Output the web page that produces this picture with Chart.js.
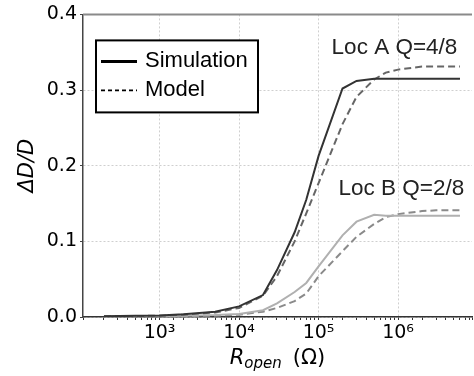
<!DOCTYPE html>
<html>
<head>
<meta charset="utf-8">
<script src="https://cdn.jsdelivr.net/npm/chart.js@4/dist/chart.umd.min.js"></script>
<style>
  html, body { margin: 0; padding: 0; background: #fff; }
  #wrap { width: 474px; height: 376px; }
</style>
</head>
<body>
<div id="wrap"><canvas id="chart" width="474" height="376"></canvas></div>
<script>
// R_open values (ohm) shared by all curves
const rOpen = [200, 500, 1e3, 2e3, 5e3, 1e4, 2e4, 3e4, 5e4, 7e4, 1e5, 2e5, 3e5, 5e5, 7e5, 1e6, 2e6, 3e6, 6e6];

// dD/D readings
const simA   = [0.001, 0.0015, 0.002, 0.0035, 0.007, 0.014, 0.029, 0.062, 0.112, 0.155, 0.213, 0.302, 0.312, 0.315, 0.315, 0.315, 0.315, 0.315, 0.315];
const modelA = [0.0008, 0.0012, 0.0018, 0.003, 0.006, 0.012, 0.028, 0.054, 0.100, 0.137, 0.177, 0.255, 0.291, 0.314, 0.323, 0.327, 0.331, 0.331, 0.331];
const simB   = [0.0005, 0.0007, 0.001, 0.0015, 0.0025, 0.004, 0.009, 0.018, 0.033, 0.045, 0.067, 0.108, 0.126, 0.135, 0.134, 0.134, 0.134, 0.134, 0.134];
const modelB = [0.0003, 0.0005, 0.0007, 0.001, 0.0018, 0.003, 0.007, 0.012, 0.021, 0.031, 0.054, 0.087, 0.106, 0.123, 0.132, 0.136, 0.140, 0.141, 0.141];

const yTicks = [0, 0.1, 0.2, 0.3, 0.4];
const legendLabels = ['Simulation', 'Model'];
const notes = [
  { text: 'Loc A Q=4/8', x: 9e5, y: 0.356 },
  { text: 'Loc B Q=2/8', x: 1.1e6, y: 0.169 },
];

const sup = { '0': '⁰', '1': '¹', '2': '²', '3': '³', '4': '⁴', '5': '⁵', '6': '⁶', '7': '⁷', '8': '⁸', '9': '⁹' };
const isDecade = (v) => Math.abs(Math.log10(v) - Math.round(Math.log10(v))) < 1e-9;

function pts(ys) {
  return rOpen.map((r, i) => ({ x: r, y: ys[i] }));
}

// extra drawing: top spine, legend box, notes, axis titles
const extras = {
  id: 'extras',
  afterDraw(chart) {
    const c = chart.ctx;
    const a = chart.chartArea;
    const x = chart.scales.x, y = chart.scales.y;
    c.save();

    // top spine
    c.strokeStyle = '#8a8a8a';
    c.lineWidth = 2;
    c.beginPath();
    c.moveTo(a.left, a.top);
    c.lineTo(a.right, a.top);
    c.stroke();

    // legend
    const lx = a.left + 13, ly = a.top + 26;
    c.fillStyle = '#fff';
    c.fillRect(lx, ly, 162, 72);
    c.strokeStyle = '#000';
    c.lineWidth = 2;
    c.strokeRect(lx, ly, 162, 72);
    c.font = '22px "Liberation Sans", Arial, sans-serif';
    c.textBaseline = 'middle';
    c.textAlign = 'left';
    const rows = [ly + 21, ly + 50];
    c.lineWidth = 3;
    c.beginPath();
    c.moveTo(lx + 5, rows[0]);
    c.lineTo(lx + 41, rows[0]);
    c.stroke();
    c.lineWidth = 1.8;
    c.setLineDash([4, 3]);
    c.beginPath();
    c.moveTo(lx + 5, rows[1]);
    c.lineTo(lx + 41, rows[1]);
    c.stroke();
    c.setLineDash([]);
    c.fillStyle = '#000';
    legendLabels.forEach((t, i) => c.fillText(t, lx + 49, rows[i]));

    // notes
    c.font = '22.5px "Liberation Sans", Arial, sans-serif';
    c.fillStyle = '#222';
    c.textAlign = 'center';
    notes.forEach((n) => c.fillText(n.text, x.getPixelForValue(n.x), y.getPixelForValue(n.y)));

    // x title: R_open (Ω)
    const big = '21px "DejaVu Sans", sans-serif';
    const bigIt = 'italic 21px "DejaVu Sans", sans-serif';
    const small = 'italic 15px "DejaVu Sans", sans-serif';
    const gap = 11;
    c.textAlign = 'left';
    c.textBaseline = 'alphabetic';
    c.font = bigIt; const wR = c.measureText('R').width;
    c.font = small; const wSub = c.measureText('open').width;
    c.font = big; const wRest = c.measureText('(Ω)').width;
    let tx = (a.left + a.right) / 2 - (wR + wSub + gap + wRest) / 2;
    const base = 364;
    c.fillStyle = '#000';
    c.font = bigIt; c.fillText('R', tx, base); tx += wR;
    c.font = small; c.fillText('open', tx, base + 4); tx += wSub + gap;
    c.font = big; c.fillText('(Ω)', tx, base);

    // y title: ΔD/D
    c.translate(28, (a.top + a.bottom) / 2);
    c.rotate(-Math.PI / 2);
    c.textAlign = 'center';
    c.textBaseline = 'middle';
    c.font = bigIt;
    c.fillText('ΔD/D', 0, 0);
    c.restore();
  },
};

const ctx = document.getElementById('chart').getContext('2d');
const chart = new Chart(ctx, {
  type: 'line',
  data: {
    datasets: [
      { label: 'Sim A', data: pts(simA), borderColor: '#333333', borderWidth: 2 },
      { label: 'Model A', data: pts(modelA), borderColor: '#666666', borderWidth: 2, borderDash: [7, 4] },
      { label: 'Sim B', data: pts(simB), borderColor: '#b0b0b0', borderWidth: 2 },
      { label: 'Model B', data: pts(modelB), borderColor: '#8a8a8a', borderWidth: 2, borderDash: [7, 4] },
    ],
  },
  options: {
    responsive: false,
    animation: false,
    layout: { padding: { top: 10, right: 1, left: 0, bottom: 0 } },
    elements: { point: { radius: 0 }, line: { tension: 0, fill: false } },
    plugins: { legend: { display: false }, tooltip: { enabled: false } },
    scales: {
      x: {
        type: 'logarithmic',
        min: 109,
        max: 8.5e6,
        afterFit: (s) => { s.height = 59; },
        border: { color: '#333', width: 1.5, dash: [2, 2] },
        grid: {
          color: (c) => (c.tick && isDecade(c.tick.value) ? '#cfcfcf' : 'rgba(0,0,0,0)'),
          tickColor: '#333',
          tickBorderDash: [],
          tickLength: 3,
        },
        ticks: {
          autoSkip: false,
          maxRotation: 0,
          padding: 2,
          color: '#000',
          font: { family: '"DejaVu Sans", sans-serif', size: 19 },
          callback: (v) => {
            if (!isDecade(v)) return '';
            const e = String(Math.round(Math.log10(v)));
            return '10' + e.split('').map((d) => sup[d]).join('');
          },
        },
      },
      y: {
        min: 0,
        max: 0.4,
        afterFit: (s) => { s.width = 83; },
        afterBuildTicks: (s) => { s.ticks = yTicks.map((v) => ({ value: v })); },
        border: { color: '#444', width: 1.5, dash: [2, 2] },
        grid: {
          color: '#cfcfcf',
          tickColor: '#444',
          tickBorderDash: [],
          tickLength: 3,
        },
        ticks: {
          padding: 3,
          color: '#000',
          font: { family: '"DejaVu Sans", sans-serif', size: 19 },
          callback: (v) => v.toFixed(1),
        },
      },
    },
  },
  plugins: [extras],
});
</script>
</body>
</html>
